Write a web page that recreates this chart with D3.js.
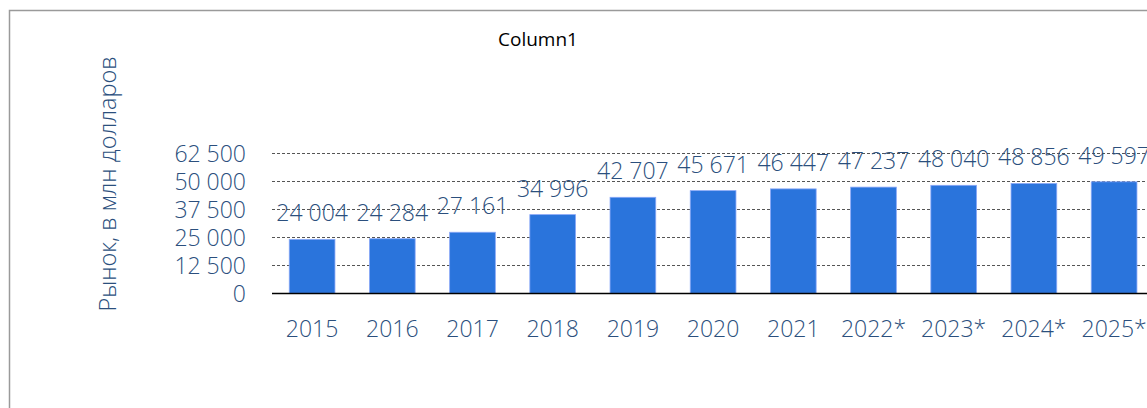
<!DOCTYPE html>
<html><head><meta charset="utf-8">
<script src="https://cdn.jsdelivr.net/npm/d3@7"></script>
<style>html,body{margin:0;padding:0;background:#fff;overflow:hidden}</style>
</head><body>
<svg id="c" width="1147" height="408"></svg>
<script>
const categories = ["2015","2016","2017","2018","2019","2020","2021","2022*","2023*","2024*","2025*"];
const values = [24004,24284,27161,34996,42707,45671,46447,47237,48040,48856,49597];
const yTicks = [0,12500,25000,37500,50000,62500];
const chartTitle = "Column1";
const yTitle = "Рынок, в млн долларов";

const svg = d3.select("#c");
const txt = "#2b4f7d";
const font = "'Open Sans', sans-serif";

svg.append("rect").attr("x",9.5).attr("y",10.5).attr("width",1200).attr("height",500)
  .attr("fill","#fff").attr("stroke","#9a9a9a").attr("stroke-width",1.5);

const left = 272, step = 80.2;
const x = d3.scaleBand().domain(categories).range([left, left + step*categories.length]).paddingInner(0.43).paddingOuter(0.215);
const y = d3.scaleLinear().domain([0,62500]).range([293.3,152.8]);

// gridlines
svg.append("g").selectAll("line").data(yTicks.filter(d=>d>0)).join("line")
  .attr("x1",left).attr("x2",1160).attr("y1",d=>Math.round(y(d))+0.5).attr("y2",d=>Math.round(y(d))+0.5)
  .attr("stroke","#555").attr("stroke-width",1).attr("stroke-dasharray","3,2");

// y axis labels
const yAxis = d3.axisLeft(y).tickValues(yTicks).tickSize(0).tickPadding(0)
  .tickFormat(d=>d3.format(",")(d).replace(/,/g," "));
const ga = svg.append("g").attr("transform","translate(246,0)").call(yAxis);
ga.select(".domain").remove();
ga.selectAll("text").attr("fill",txt).style("font-family",font).style("font-size","23px").style("font-weight",300).attr("dy","0.36em");

// bars
svg.append("g").selectAll("rect").data(values).join("rect")
  .attr("x",(d,i)=>x(categories[i])).attr("width",x.bandwidth())
  .attr("y",d=>y(d)).attr("height",d=>y(0)-y(d))
  .attr("fill","#2a74dc").attr("stroke","#8aa8f8").attr("stroke-width",0.8);

// baseline
svg.append("line").attr("x1",left).attr("x2",1160).attr("y1",293.5).attr("y2",293.5).attr("stroke","#000").attr("stroke-width",1.3);

// x axis labels
const xAxis = d3.axisBottom(x).tickSize(0).tickPadding(0);
const gx = svg.append("g").attr("transform","translate(0,320)").call(xAxis);
gx.select(".domain").remove();
gx.selectAll("text").attr("fill",txt).style("font-family",font).style("font-size","23px").style("font-weight",300).attr("dy","0.72em");

// data labels
svg.append("g").selectAll("text").data(values).join("text")
  .attr("x",(d,i)=>x(categories[i])+x.bandwidth()/2).attr("y",d=>y(d)-18)
  .attr("text-anchor","middle").attr("fill",txt)
  .style("font-family",font).style("font-size","23px").style("font-weight",300)
  .text(d=>d3.format(",")(d).replace(/,/g," "));

// title
svg.append("text").attr("x",538).attr("y",46).attr("text-anchor","middle")
  .style("font-family","'Open Sans', sans-serif").style("font-size","19px").attr("fill","#000").text(chartTitle);

// y title
svg.append("text").attr("transform","translate(116,184) rotate(-90)").attr("text-anchor","middle")
  .attr("fill",txt).style("font-family",font).style("font-size","23.5px").style("font-weight",300).text(yTitle);
</script>
</body></html>
